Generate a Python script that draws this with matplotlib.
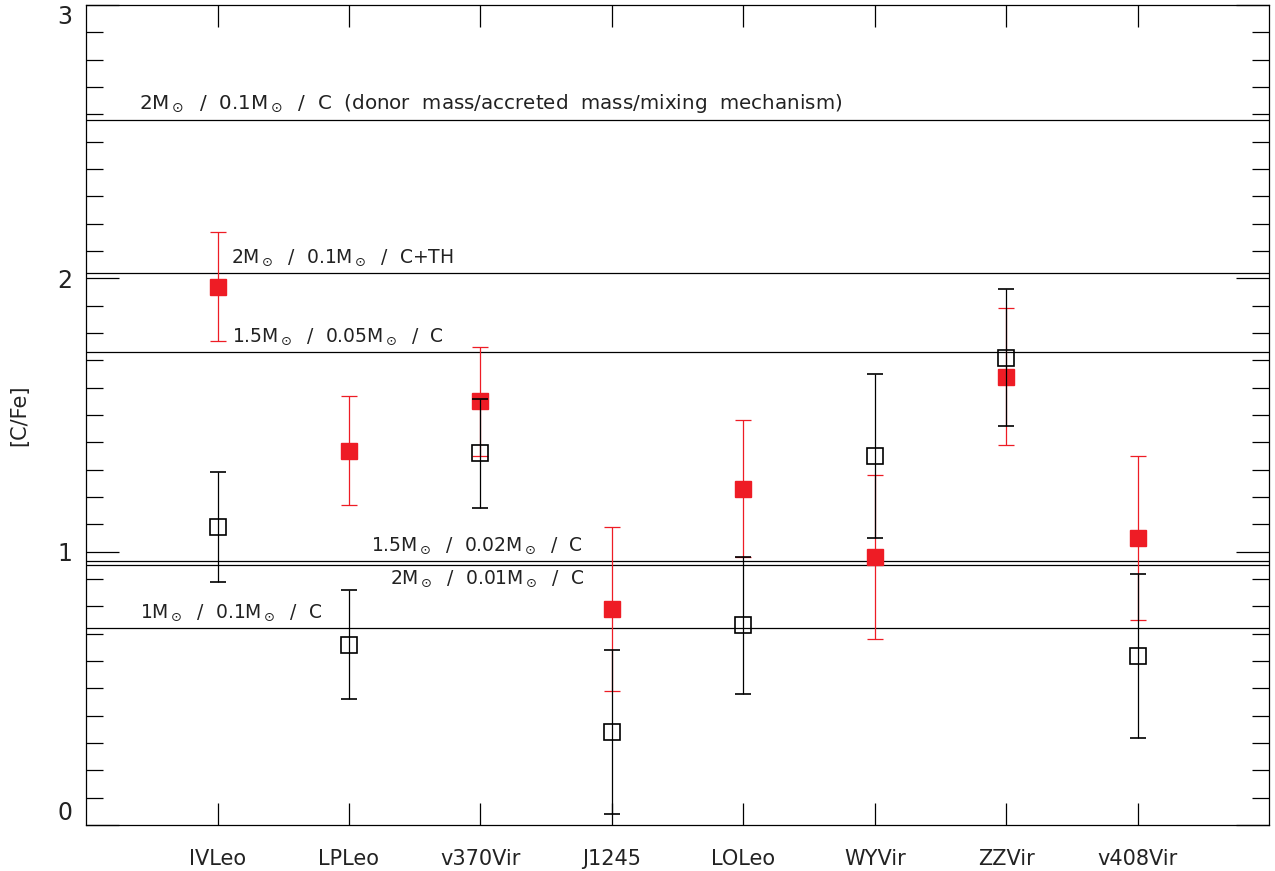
import numpy as np
import matplotlib
matplotlib.use("Agg")
import matplotlib.pyplot as plt
from matplotlib.ticker import MultipleLocator

plt.rcParams['font.family'] = ['DejaVu Sans']
plt.rcParams['mathtext.fontset'] = 'dejavusans'

# stars along the x axis
stars = ['IVLeo', 'LPLeo', 'v370Vir', 'J1245', 'LOLeo', 'WYVir', 'ZZVir', 'v408Vir']

# observed [C/Fe] (filled red) and second estimate (open black)
red_vals = [1.97, 1.37, 1.55, 0.79, 1.23, 0.98, 1.64, 1.05]
red_errs = [0.20, 0.20, 0.20, 0.30, 0.25, 0.30, 0.25, 0.30]
black_vals = [1.09, 0.66, 1.36, 0.34, 0.73, 1.35, 1.71, 0.62]
black_errs = [0.20, 0.20, 0.20, 0.30, 0.25, 0.30, 0.25, 0.30]

# model predictions (horizontal lines) and their labels
model_levels = [2.58, 2.02, 1.73, 0.967, 0.951, 0.72]
model_labels = [
    r"2M$_\odot$  /  0.1M$_\odot$  /  C  (donor  mass/accreted  mass/mixing  mechanism)",
    r"2M$_\odot$  /  0.1M$_\odot$  /  C+TH",
    r"1.5M$_\odot$  /  0.05M$_\odot$  /  C",
    r"1.5M$_\odot$  /  0.02M$_\odot$  /  C",
    r"2M$_\odot$  /  0.01M$_\odot$  /  C",
    r"1M$_\odot$  /  0.1M$_\odot$  /  C",
]
label_x = [0.40, 1.10, 1.11, 2.17, 2.31, 0.41]
label_below = [False, False, False, False, True, False]
label_size = [14.3, 13.5, 13.5, 13.5, 13.5, 13.5]

red = '#ee1c25'
ink = '#222222'

fig = plt.figure(figsize=(12.75, 8.71), dpi=100)
ax = fig.add_axes([0.0675, 0.0528, 0.928, 0.9415])

x = np.arange(1, len(stars) + 1)

for lvl in model_levels:
    ax.axhline(lvl, color='black', lw=0.9, zorder=1)

for lvl, lab, lx, below, fs in zip(model_levels, model_labels, label_x,
                                   label_below, label_size):
    if below:
        ax.text(lx, lvl - 0.012, lab, fontsize=fs, va='top', ha='left', color=ink)
    else:
        ax.text(lx, lvl + 0.018, lab, fontsize=fs, va='bottom', ha='left', color=ink)

ax.errorbar(x, red_vals, yerr=red_errs, fmt='s', color=red, ms=12,
            mec=red, mfc=red, ecolor=red, elinewidth=0.9, capsize=5.5,
            capthick=0.9, zorder=3)
ax.errorbar(x, black_vals, yerr=black_errs, fmt='s', color='black', ms=12,
            mfc='none', mec='black', mew=1.2, ecolor='black', elinewidth=0.9,
            capsize=5.5, capthick=0.9, zorder=4)

ax.set_xlim(0, 9)
ax.set_ylim(0, 3)
ax.set_xticks(x)
ax.set_xticklabels(stars, fontsize=15, color=ink)
ax.set_yticks([0, 1, 2, 3])
ax.yaxis.set_minor_locator(MultipleLocator(0.1))
ax.tick_params(axis='y', which='major', direction='in', length=24, width=0.9,
               left=True, right=True, labelsize=17, pad=10, labelcolor=ink)
ax.tick_params(axis='y', which='minor', direction='in', length=12, width=0.9,
               left=True, right=True)
ax.tick_params(axis='x', which='major', direction='in', length=16, width=0.9,
               top=True, bottom=True, pad=17)
ax.tick_params(axis='x', which='minor', bottom=False, top=False)
for sp in ax.spines.values():
    sp.set_linewidth(0.9)

ax.set_ylabel('[C/Fe]', fontsize=15, color=ink)
ax.yaxis.set_label_coords(-0.048, 0.5)

# keep the end labels inside the figure like the original
fig.canvas.draw()
ylabs = ax.get_yticklabels()
ylabs[0].set_verticalalignment('bottom')
ylabs[-1].set_verticalalignment('top')

fig.savefig('out.png', dpi=100)
